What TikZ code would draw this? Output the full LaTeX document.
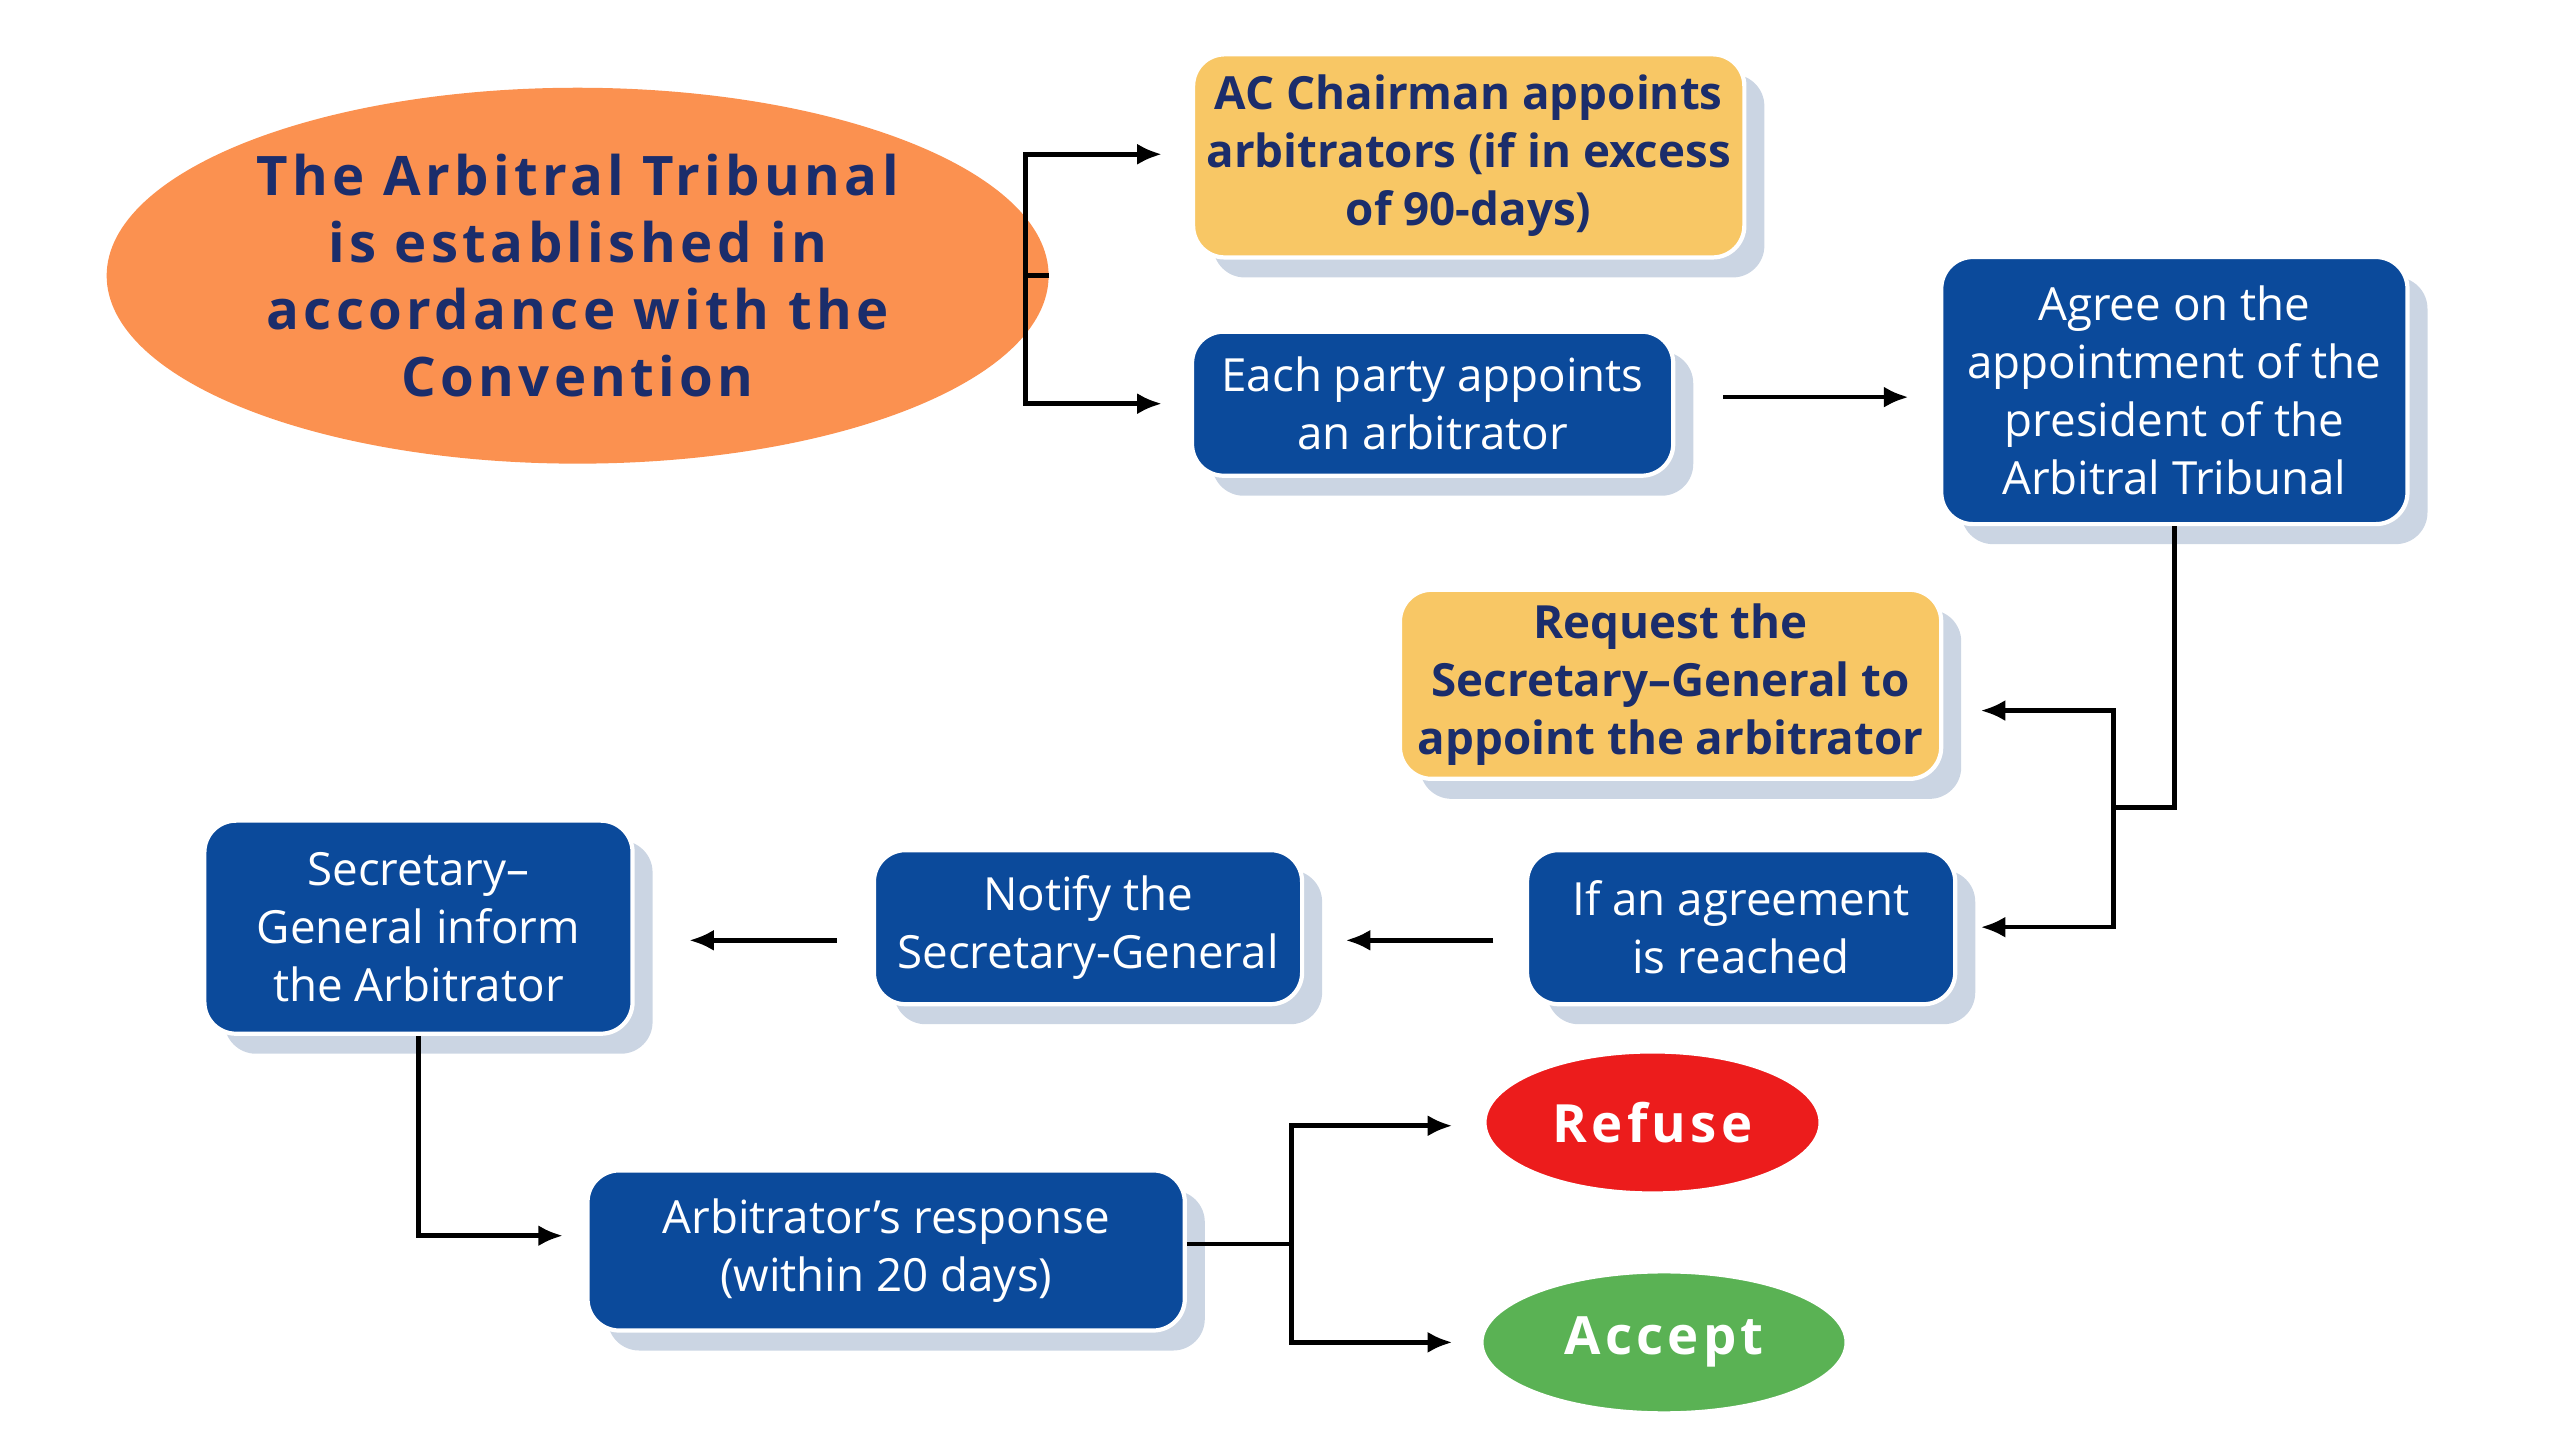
\documentclass[tikz,border=0pt]{standalone}
\usepackage{fontspec}
\setmainfont{Open Sans}
\usetikzlibrary{arrows.meta,shapes,shadows,calc}
\definecolor{navy}{HTML}{1B2D6B}
\definecolor{boxblue}{HTML}{0B4A9B}
\definecolor{sunny}{HTML}{F8C765}
\definecolor{peach}{HTML}{FB9150}
\definecolor{shade}{HTML}{CBD5E3}
\definecolor{refusered}{HTML}{EC1C1C}
\definecolor{acceptgreen}{HTML}{5AB254}
\tikzset{
  box/.style={draw=white, line width=1.2pt, rounded corners=9pt, align=center,
    font=\fontsize{13}{16.5}\selectfont,
    drop shadow={shadow xshift=0.2cm, shadow yshift=-0.2cm, fill=shade, opacity=1}},
  bluebox/.style={box, fill=boxblue, text=white},
  yellowbox/.style={box, fill=sunny, text=navy, font=\fontsize{13}{16.5}\selectfont\bfseries},
  blob/.style={ellipse, draw=white, line width=1.2pt, align=center, text=white,
    font=\fontsize{15}{18}\selectfont\bfseries\addfontfeature{LetterSpace=8}},
  link/.style={line width=1.3pt, -{Latex[length=7pt,width=6pt]}},
  line/.style={line width=1.3pt}
}
\begin{document}
\begin{tikzpicture}[x=0.01641cm, y=-0.01641cm]
  \useasboundingbox (0,0) rectangle (1560,881);
  % nodes
  \node[ellipse, fill=peach, minimum width=420\dimexpr0.01641cm\relax, minimum height=258\dimexpr0.01641cm\relax,
    align=center, text=navy, font=\fontsize{15.5}{19}\selectfont\bfseries\addfontfeature{LetterSpace=8}]
    (tribunal) at (352,168) {The Arbitral Tribunal\\is established in\\accordance with the\\Convention};
  \node[yellowbox, minimum width=5.51cm, minimum height=2.03cm] (chairman) at (895,95)
    {AC Chairman appoints\\arbitrators (if in excess\\of 90-days)};
  \node[bluebox, minimum width=4.81cm, minimum height=1.44cm] (party) at (873,246)
    {Each party appoints\\an arbitrator};
  \node[bluebox, minimum width=4.66cm, minimum height=2.67cm] (agree) at (1325,238)
    {Agree on the\\appointment of the\\president of the\\Arbitral Tribunal};
  \node[yellowbox, minimum width=5.41cm, minimum height=1.89cm] (request) at (1018,417)
    {Request the\\Secretary--General to\\appoint the arbitrator};
  \node[bluebox, minimum width=4.28cm, minimum height=1.54cm] (reached) at (1061,565)
    {If an agreement\\is reached};
  \node[bluebox, minimum width=4.28cm, minimum height=1.54cm] (notify) at (663,565)
    {Notify the\\Secretary-General};
  \node[bluebox, minimum width=4.28cm, minimum height=2.13cm] (inform) at (255,565)
    {Secretary--\\General inform\\the Arbitrator};
  \node[bluebox, minimum width=5.97cm, minimum height=1.6cm] (response) at (540,762)
    {Arbitrator’s response\\(within 20 days)};
  \node[blob, fill=refusered, minimum width=3.36cm, minimum height=1.42cm] (refuse) at (1007,684) {Refuse};
  \node[blob, fill=acceptgreen, minimum width=3.65cm, minimum height=1.42cm] (accept) at (1014,818) {Accept};
  % connectors
  \coordinate (s1) at (625,168);
  \coordinate (e1) at (708,94);
  \coordinate (e2) at (708,246);
  \draw[line] (tribunal.east) -- (s1);
  \draw[link] (s1) |- (e1);
  \draw[link] (s1) |- (e2);
  \coordinate (p1) at (1050,242);
  \coordinate (p2) at (1163,242);
  \draw[link] (p1) -- (p2);
  \coordinate (j1) at (1288,492);
  \coordinate (r1) at (1207,433);
  \coordinate (r2) at (1207,565);
  \draw[line] (agree.south) |- (j1);
  \draw[link] (j1) |- (r1);
  \draw[link] (j1) |- (r2);
  \coordinate (n1) at (910,573);
  \coordinate (n2) at (820,573);
  \draw[link] (n1) -- (n2);
  \coordinate (m1) at (510,573);
  \coordinate (m2) at (420,573);
  \draw[link] (m1) -- (m2);
  \coordinate (q1) at (343,753);
  \draw[link] (inform.south) |- (q1);
  \coordinate (s2) at (787,758);
  \coordinate (a1) at (885,686);
  \coordinate (a2) at (885,818);
  \draw[line] (response.east |- s2) -- (s2);
  \draw[link] (s2) |- (a1);
  \draw[link] (s2) |- (a2);
\end{tikzpicture}
\end{document}
